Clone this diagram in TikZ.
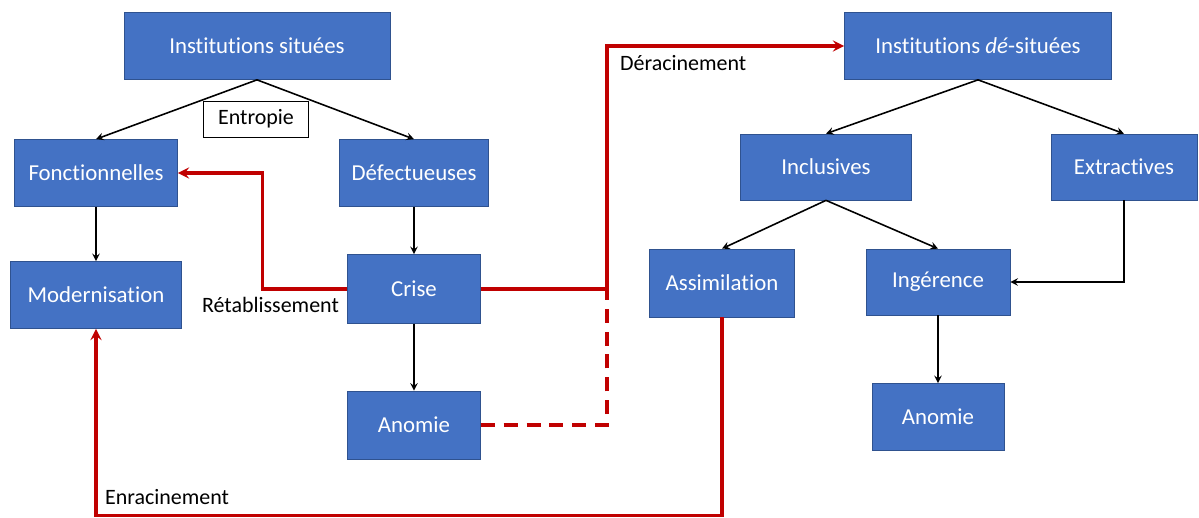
\documentclass[tikz,border=0pt]{standalone}
\usepackage{fontspec}
\setmainfont[Ligatures={NoCommon}]{Carlito}
\usepackage{xcolor}
\usepackage{tikz}
\usetikzlibrary{arrows, positioning, calc}

\definecolor{boxblue}{HTML}{4472C4}
\definecolor{boxedge}{HTML}{2F528F}
\definecolor{linkred}{HTML}{C00000}

\begin{document}
\begin{tikzpicture}[
    x=0.02cm, y=-0.02cm,
    inst/.style={rectangle, draw=boxedge, fill=boxblue, thin, text=white, minimum height=1.34cm, text centered, font=\fontsize{13}{15.6}\selectfont},
    tag/.style={font=\fontsize{12.5}{15}\selectfont, text=black, inner sep=1pt},
    arrow/.style={->, >=stealth, line width=0.9pt, draw=black},
    redarrow/.style={->, >=stealth, line width=1.8pt, draw=linkred},
    redline/.style={line width=1.8pt, draw=linkred}
]
\useasboundingbox (0,0) rectangle (1199,517);

% left side
\node[inst, minimum width=5.32cm] (sit) at (257,46) {Institutions situées};
\node[inst, minimum width=3.26cm] (fonc) at (96,173) {Fonctionnelles};
\node[inst, minimum width=2.98cm] (defe) at (414,173) {Défectueuses};
\node[inst, minimum width=3.42cm] (mode) at (96,295) {Modernisation};
\node[inst, minimum width=2.66cm, minimum height=1.38cm] (crise) at (414,289) {Crise};
\node[inst, minimum width=2.66cm, minimum height=1.36cm] (anoL) at (414,425) {Anomie};

% right side
\node[inst, minimum width=5.34cm] (desit) at (978,46) {Institutions \emph{dé}-situées};
\node[inst, minimum width=3.42cm, minimum height=1.32cm] (incl) at (826,167) {Inclusives};
\node[inst, minimum width=2.92cm, minimum height=1.32cm] (extr) at (1124,167) {Extractives};
\node[inst, minimum width=2.9cm, minimum height=1.36cm] (assi) at (722,283) {Assimilation};
\node[inst, minimum width=2.88cm, minimum height=1.32cm] (inge) at (938,282) {Ingérence};
\node[inst, minimum width=2.64cm] (anoR) at (938,417) {Anomie};

% black arrows
\draw[arrow] (sit.south) -- (fonc.north);
\draw[arrow] (sit.south) -- (defe.north);
\draw[arrow] (fonc) -- (mode);
\draw[arrow] (defe) -- (crise);
\draw[arrow] (crise) -- (anoL);
\draw[arrow] (desit.south) -- (incl.north);
\draw[arrow] (desit.south) -- (extr.north);
\draw[arrow] (incl.south) -- (assi.north);
\draw[arrow] (incl.south) -- (inge.north);
\draw[arrow] (extr.south) |- (inge.east);
\draw[arrow] (inge) -- (anoR);

\node[draw=black, fill=white, thin, minimum width=2.1cm, minimum height=0.72cm, tag] (entro) at (256,119) {Entropie};

% red links
\coordinate (jn) at (607,289);
\draw[redarrow] (crise.west) -- ++(-85,0) |- (fonc.east);
\draw[redarrow] (crise.east) -- (jn) |- (desit.west);
\draw[redline, dashed, dash pattern=on 8pt off 5pt] (anoL.east) -| (jn);
\draw[redarrow] (assi.south) -- ++(0,198) -| (mode.south);

\node[tag, anchor=east] (reta) at (341,305) {Rétablissement};
\node[tag, anchor=west] (dera) at (618,63) {Déracinement};
\node[tag, anchor=west] (enra) at (103,497) {Enracinement};

\end{tikzpicture}
\end{document}
